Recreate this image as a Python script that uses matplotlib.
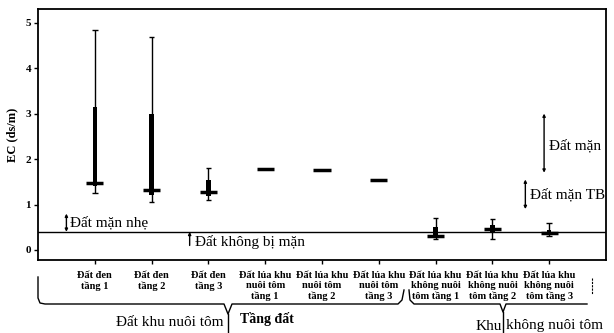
import matplotlib

matplotlib.use("Agg")
import matplotlib.pyplot as plt
from matplotlib.lines import Line2D

plt.rcParams["font.family"] = ["Liberation Serif", "DejaVu Serif"]

CATEGORIES = [
    "Đất đen\ntầng 1",
    "Đất đen\ntầng 2",
    "Đất đen\ntầng 3",
    "Đất lúa khu\nnuôi tôm\ntầng 1",
    "Đất lúa khu\nnuôi tôm\ntầng 2",
    "Đất lúa khu\nnuôi tôm\ntầng 3",
    "Đất lúa khu\nkhông nuôi\ntôm tầng 1",
    "Đất lúa khu\nkhông nuôi\ntôm tầng 2",
    "Đất lúa khu\nkhông nuôi\ntôm tầng 3",
]
WHISKER_LO = [1.25, 1.05, 1.10, 1.78, 1.75, 1.55, 0.25, 0.25, 0.30]
Q1 = [1.40, 1.20, 1.18, 1.78, 1.75, 1.55, 0.27, 0.40, 0.33]
MEDIAN = [1.48, 1.33, 1.27, 1.78, 1.75, 1.55, 0.30, 0.47, 0.37]
Q3 = [3.15, 3.00, 1.55, 1.78, 1.75, 1.55, 0.50, 0.55, 0.45]
WHISKER_HI = [4.83, 4.68, 1.80, 1.78, 1.75, 1.55, 0.70, 0.68, 0.60]

THRESHOLD = 0.4
YTICKS = [0, 1, 2, 3, 4, 5]

W, H = 614, 333


def px(x, y):
    return x / W, 1 - y / H


fig = plt.figure(figsize=(W / 100, H / 100), dpi=100)
ax = fig.add_axes([38 / W, 1 - 260 / H, (606 - 38) / W, (260 - 9) / H])

pos = list(range(1, len(CATEGORIES) + 1))
ax.vlines(pos, WHISKER_LO, WHISKER_HI, color="black", lw=1)
ax.hlines(WHISKER_HI, [p - 0.05 for p in pos], [p + 0.05 for p in pos], color="black", lw=1)
ax.hlines(WHISKER_LO, [p - 0.05 for p in pos], [p + 0.05 for p in pos], color="black", lw=1)
ax.bar(pos, [b - a for a, b in zip(Q1, Q3)], bottom=Q1, width=0.08, color="black")
ax.hlines(MEDIAN, [p - 0.15 for p in pos], [p + 0.15 for p in pos], color="black", lw=2.5)

ax.axhline(THRESHOLD, color="black", lw=1)

ax.set_xlim(0, 10)
ax.set_ylim(-0.22, 5.3)
ax.set_xticks(pos)
ax.set_xticklabels(CATEGORIES, fontsize=7.5, fontweight="bold", linespacing=1.15)
ax.set_yticks(YTICKS)
ax.set_yticklabels([str(v) for v in YTICKS], fontsize=8, fontweight="bold")
ax.tick_params(axis="both", length=3, width=1, pad=2)
ax.tick_params(axis="x", pad=5)
ax.set_ylabel("EC (ds/m)", fontsize=9, fontweight="bold", labelpad=5)
for s in ax.spines.values():
    s.set_linewidth(1.3)

arrow2 = dict(arrowstyle="<|-|>", mutation_scale=4, lw=1, color="black", shrinkA=0, shrinkB=0)
arrow1 = dict(arrowstyle="-|>", mutation_scale=4, lw=1, color="black", shrinkA=0, shrinkB=0)

ax.annotate("", xy=(0.5, 0.8), xytext=(0.5, 0.4), arrowprops=arrow2)
ax.text(0.57, 0.6, "Đất mặn nhẹ", fontsize=11, va="center")
ax.annotate("", xy=(2.67, 0.4), xytext=(2.67, 0.1), arrowprops=arrow1)
ax.text(2.76, 0.17, "Đất không bị mặn", fontsize=11, va="center")
ax.annotate("", xy=(8.91, 3.0), xytext=(8.91, 1.7), arrowprops=arrow2)
ax.text(8.99, 2.3, "Đất mặn", fontsize=11, va="center")
ax.annotate("", xy=(8.58, 1.55), xytext=(8.58, 0.9), arrowprops=arrow2)
ax.text(8.66, 1.22, "Đất mặn TB", fontsize=11, va="center")


# braces below the tick labels
def brace(points):
    xs, ys = zip(*[px(x, y) for x, y in points])
    fig.add_artist(Line2D(xs, ys, color="black", lw=1))


brace([(38, 277), (38, 298), (40, 303), (45, 304), (224, 304), (228, 314),
       (232, 304), (398, 304), (402, 300), (404, 290)])
brace([(228, 314), (228, 333)])
brace([(409, 290), (410, 300), (414, 304), (500, 304), (503, 312),
       (506, 304), (587, 304)])
brace([(503, 312), (503, 333)])
fig.add_artist(Line2D(*zip(*[px(592, 278), px(592, 294)]), color="black", lw=0.8, ls=(0, (2, 1))))

fig.text(*px(224, 323), "Đất khu nuôi tôm", fontsize=11, ha="right", va="center")
fig.text(*px(240, 319), "Tầng đất", fontsize=10, fontweight="bold", ha="left", va="center")
fig.text(*px(502, 326), "Khu", fontsize=11, ha="right", va="center")
fig.text(*px(506, 326), "không nuôi tôm", fontsize=11, ha="left", va="center")

fig.savefig("out.png", dpi=100)
